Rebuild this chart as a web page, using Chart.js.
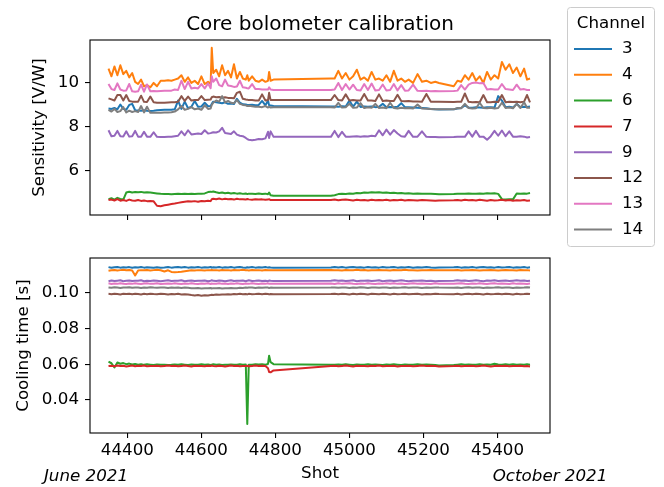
<!DOCTYPE html>
<html>
<head>
<meta charset="utf-8">
<script src="https://cdn.jsdelivr.net/npm/chart.js"></script>
<style>
  html, body { margin: 0; padding: 0; background: #fff; }
  #wrap { position: relative; width: 664px; height: 487px; }
  #wrap canvas { position: absolute; left: 0; top: 0; }
</style>
</head>
<body>
<div id="wrap">
  <canvas id="sensChart" width="664" height="487"></canvas>
  <canvas id="coolChart" width="664" height="487"></canvas>
</div>
<script>
// shot numbers shared by every channel
const shots = [
  44349, 44357, 44365, 44373, 44381, 44389, 44397, 44405, 44413, 44421,
  44429, 44437, 44445, 44453, 44462, 44471, 44480, 44490, 44500, 44510,
  44519, 44528, 44537, 44546, 44555, 44564, 44573, 44582, 44591, 44600,
  44609, 44618, 44625, 44628, 44632, 44640, 44648, 44656, 44664, 44672,
  44680, 44688, 44696, 44704, 44712, 44720, 44724, 44728, 44737, 44746,
  44755, 44764, 44773, 44780, 44783, 44787, 44795, 44950, 44960, 44970,
  44980, 44990, 45000, 45010, 45020, 45030, 45040, 45050, 45060, 45070,
  45080, 45090, 45100, 45110, 45120, 45130, 45140, 45150, 45160, 45172,
  45184, 45196, 45208, 45220, 45232, 45242, 45282, 45292, 45302, 45312,
  45322, 45332, 45342, 45352, 45362, 45372, 45382, 45392, 45402, 45412,
  45422, 45432, 45442, 45452, 45462, 45472, 45480, 45488
];

const channels = ['3', '4', '6', '7', '9', '12', '13', '14'];
const colors = ['#1f77b4', '#ff7f0e', '#2ca02c', '#d62728', '#9467bd', '#8c564b', '#e377c2', '#7f7f7f'];

const xTicks = [44400, 44600, 44800, 45000, 45200, 45400];
const sensTicks = [6, 8, 10];
const coolTicks = [0.04, 0.06, 0.08, 0.10];

// sensitivity [V/W]
const sens3 = [
  8.84, 8.82, 8.86, 8.80, 9.02, 8.82, 8.78, 9.00, 9.05, 8.76,
  8.75, 8.74, 8.76, 8.74, 8.73, 8.74, 8.76, 8.77, 8.78, 8.78,
  8.78, 8.80, 9.20, 8.82, 9.15, 8.85, 8.92, 9.18, 8.92, 8.93,
  9.10, 8.94, 8.95, 9.05, 9.15, 9.12, 9.10, 9.08, 9.12, 9.05,
  9.06, 9.04, 9.28, 9.10, 9.03, 9.02, 9.00, 9.00, 9.01, 8.99,
  9.00, 9.18, 8.98, 9.20, 8.98, 8.97, 8.95, 8.93, 8.93, 8.92,
  8.94, 8.93, 9.20, 8.92, 9.15, 8.91, 8.93, 8.92, 8.93, 8.90,
  8.92, 9.05, 8.90, 8.91, 8.90, 8.92, 9.08, 8.90, 8.89, 8.88,
  8.87, 8.86, 8.85, 8.82, 8.80, 8.79, 8.80, 8.84, 8.86, 8.98,
  8.88, 8.87, 8.89, 8.88, 8.87, 8.90, 8.89, 8.88, 9.40, 9.20,
  8.90, 8.92, 8.88, 9.05, 8.90, 8.92, 8.91, 8.93
];
const sens4 = [
  10.65, 10.30, 10.75, 10.35, 10.80, 10.40, 10.55, 10.25, 10.45, 10.05,
  9.95, 10.15, 9.85, 9.90, 9.80, 10.00, 9.85, 10.10, 10.10, 10.12,
  10.10, 10.15, 10.20, 10.35, 10.05, 10.25, 10.00, 10.10, 9.95, 10.30,
  9.95, 10.05, 9.95, 11.60, 10.45, 10.60, 10.30, 10.80, 10.35, 10.55,
  10.25, 10.85, 10.20, 10.50, 10.20, 10.15, 10.35, 10.10, 10.30, 10.10,
  10.05, 10.15, 10.05, 10.10, 10.50, 10.10, 10.15, 10.20, 10.20, 10.55,
  10.20, 10.45, 10.15, 10.30, 10.60, 10.15, 10.25, 10.10, 10.50, 10.15,
  10.20, 10.10, 10.35, 10.05, 10.55, 10.10, 10.20, 10.05, 10.15, 10.00,
  10.40, 10.05, 10.10, 10.00, 10.05, 10.00, 9.85, 10.10, 10.05, 10.35,
  10.15, 10.45, 10.10, 10.30, 10.00, 10.50, 10.15, 10.35, 10.20, 10.95,
  10.60, 10.85, 10.45, 10.70, 10.30, 10.65, 10.15, 10.20
];
const sens6 = [
  4.72, 4.76, 4.70, 4.78, 4.73, 4.70, 5.02, 5.06, 5.02, 5.04,
  5.03, 5.05, 5.02, 5.03, 5.02, 5.00, 4.98, 4.96, 4.95, 4.95,
  4.94, 4.95, 4.96, 4.95, 4.97, 4.95, 4.96, 4.95, 4.96, 4.97,
  4.98, 5.04, 5.06, 5.05, 5.07, 5.03, 5.00, 5.02, 4.99, 5.01,
  4.98, 5.00, 4.97, 4.99, 4.96, 4.98, 4.95, 4.97, 4.96, 4.95,
  4.98, 4.95, 4.97, 4.94, 5.02, 4.90, 4.87, 4.87, 4.90, 4.95,
  4.96, 4.95, 4.98, 4.97, 5.00, 4.99, 5.02, 5.01, 5.03, 5.02,
  5.03, 5.01, 5.02, 5.00, 5.01, 4.99, 5.00, 4.98, 4.99, 4.97,
  4.98, 4.96, 4.97, 4.96, 4.95, 4.94, 4.95, 4.96, 4.97, 4.96,
  4.98, 4.97, 4.96, 4.98, 4.97, 4.99, 4.98, 4.99, 4.96, 4.72,
  4.70, 4.72, 4.71, 4.98, 4.96, 4.98, 4.97, 5.00
];
const sens7 = [
  4.68, 4.70, 4.66, 4.72, 4.65, 4.68, 4.64, 4.70, 4.66, 4.65,
  4.68, 4.64, 4.66, 4.63, 4.64, 4.62, 4.42, 4.40, 4.44, 4.47,
  4.50, 4.52, 4.55, 4.58, 4.60, 4.62, 4.61, 4.63, 4.60, 4.64,
  4.62, 4.65, 4.63, 4.72, 4.74, 4.72, 4.75, 4.71, 4.74, 4.72,
  4.73, 4.70, 4.74, 4.71, 4.72, 4.70, 4.73, 4.71, 4.69, 4.72,
  4.70, 4.71, 4.69, 4.70, 4.72, 4.68, 4.68, 4.68, 4.70, 4.67,
  4.69, 4.70, 4.68, 4.66, 4.69, 4.67, 4.68, 4.66, 4.69, 4.67,
  4.68, 4.67, 4.69, 4.66, 4.68, 4.67, 4.69, 4.66, 4.68, 4.67,
  4.66, 4.68, 4.67, 4.66, 4.65, 4.66, 4.67, 4.68, 4.66, 4.69,
  4.67, 4.68, 4.66, 4.69, 4.67, 4.65, 4.68, 4.66, 4.67, 4.69,
  4.66, 4.68, 4.65, 4.67, 4.66, 4.68, 4.65, 4.66
];
const sens9 = [
  7.85, 7.58, 7.60, 7.82, 7.58, 7.57, 7.80, 7.56, 7.58, 7.82,
  7.56, 7.55, 7.78, 7.56, 7.55, 7.76, 7.55, 7.54, 7.54, 7.55,
  7.56, 7.58, 7.60, 7.80, 7.62, 7.85, 7.66, 7.68, 7.70, 7.68,
  7.85, 7.70, 7.72, 7.74, 7.76, 7.75, 7.80, 7.96, 7.72, 7.70,
  7.68, 7.80, 7.65, 7.60, 7.58, 7.50, 7.45, 7.42, 7.40, 7.42,
  7.45, 7.44, 7.48, 7.78, 7.50, 7.80, 7.55, 7.55, 7.82, 7.54,
  7.78, 7.56, 7.55, 7.57, 7.58, 7.56, 7.58, 7.57, 7.60, 7.58,
  7.85, 7.62, 7.88, 7.65, 7.86, 7.70, 7.58, 7.56, 7.82, 7.55,
  7.56, 7.80, 7.55, 7.54, 7.54, 7.53, 7.54, 7.55, 7.56, 7.55,
  7.80, 7.56, 7.82, 7.55, 7.56, 7.42, 7.58, 7.82, 7.60, 7.84,
  7.58, 7.80, 7.56, 7.55, 7.58, 7.56, 7.52, 7.54
];
const sens12 = [
  9.30, 9.25, 9.20, 9.45, 9.45, 9.20, 9.45, 9.18, 9.15, 9.15,
  9.15, 9.42, 9.14, 9.13, 9.38, 9.12, 9.10, 9.10, 9.10, 9.11,
  9.12, 9.12, 9.14, 9.40, 9.18, 9.38, 9.20, 9.22, 9.22, 9.40,
  9.22, 9.24, 9.25, 9.35, 9.38, 9.35, 9.36, 9.33, 9.35, 9.32,
  9.32, 9.30, 9.55, 9.60, 9.28, 9.25, 9.24, 9.22, 9.22, 9.20,
  9.20, 9.48, 9.20, 9.22, 9.55, 9.22, 9.22, 9.22, 9.45, 9.22,
  9.20, 9.48, 9.20, 9.22, 9.20, 9.20, 9.50, 9.20, 9.20, 9.18,
  9.48, 9.18, 9.20, 9.18, 9.18, 9.46, 9.18, 9.17, 9.18, 9.16,
  9.16, 9.15, 9.50, 9.15, 9.14, 9.14, 9.13, 9.14, 9.14, 9.52,
  9.14, 9.12, 9.13, 9.12, 9.45, 9.12, 9.12, 9.14, 9.13, 9.45,
  9.12, 9.14, 9.13, 9.14, 9.12, 9.15, 9.45, 9.12
];
const sens13 = [
  9.95, 9.72, 9.68, 9.98, 9.70, 9.65, 9.66, 9.95, 9.62, 9.60,
  9.62, 9.92, 9.60, 9.93, 9.62, 9.63, 9.62, 9.63, 9.64, 9.64,
  9.65, 9.70, 9.68, 10.10, 9.72, 10.05, 9.75, 9.78, 9.75, 9.95,
  9.75, 9.98, 9.76, 10.30, 10.05, 10.20, 9.90, 9.85, 10.15, 9.88,
  9.86, 9.82, 9.84, 10.10, 9.80, 9.78, 9.76, 9.75, 9.95, 9.72,
  9.72, 9.70, 9.70, 9.70, 9.80, 9.70, 9.68, 9.68, 9.70, 10.00,
  9.68, 9.95, 9.70, 9.92, 9.68, 9.66, 9.95, 9.68, 9.97, 9.66,
  9.68, 9.93, 9.66, 9.68, 9.95, 9.66, 9.90, 9.65, 9.66, 9.92,
  9.64, 9.63, 9.64, 9.62, 9.63, 9.62, 9.63, 9.65, 9.90, 9.70,
  9.92, 10.00, 10.02, 9.98, 10.00, 9.70, 9.72, 9.70, 9.70, 9.95,
  9.72, 9.70, 9.68, 9.92, 9.70, 9.72, 9.68, 9.68
];
const sens14 = [
  8.78, 8.70, 8.82, 8.68, 8.72, 8.90, 8.66, 8.74, 8.68, 8.72,
  8.68, 8.95, 8.66, 8.92, 8.64, 8.65, 8.64, 8.65, 8.66, 8.66,
  8.67, 8.70, 8.80, 8.95, 8.78, 8.82, 8.90, 8.80, 8.84, 8.78,
  8.98, 8.82, 8.84, 9.00, 9.10, 9.20, 9.15, 9.40, 9.12, 9.18,
  9.10, 9.08, 9.22, 9.05, 9.00, 8.98, 8.95, 8.96, 8.94, 8.92,
  8.92, 8.90, 8.95, 8.88, 8.92, 8.88, 8.89, 8.90, 8.88, 9.10,
  8.88, 8.90, 9.05, 8.87, 8.88, 9.08, 8.86, 8.89, 8.87, 9.05,
  8.86, 8.88, 8.85, 9.10, 8.86, 8.84, 8.87, 8.85, 8.86, 8.84,
  9.02, 8.84, 8.83, 8.82, 8.80, 8.80, 8.80, 8.86, 8.85, 9.05,
  8.86, 8.84, 8.85, 9.10, 8.86, 8.85, 8.87, 8.84, 8.86, 9.10,
  8.86, 8.88, 8.85, 9.05, 8.86, 9.12, 8.87, 8.87
];

// cooling time [s]
const cool3 = [
  0.1145, 0.1141, 0.1144, 0.1146, 0.1142, 0.1144, 0.1143, 0.1145, 0.1141, 0.1144,
  0.1143, 0.1145, 0.1142, 0.1144, 0.1143, 0.1141, 0.1144, 0.1142, 0.1143, 0.1145,
  0.1142, 0.1144, 0.1146, 0.1143, 0.1145, 0.1142, 0.1144, 0.1143, 0.1145, 0.1142,
  0.1144, 0.1143, 0.1146, 0.1142, 0.1144, 0.1143, 0.1145, 0.1142, 0.1144, 0.1143,
  0.1145, 0.1142, 0.1144, 0.1146, 0.1143, 0.1141, 0.1144, 0.1143, 0.1145, 0.1142,
  0.1144, 0.1143, 0.1145, 0.1142, 0.1144, 0.1143, 0.1142, 0.1143, 0.1146, 0.1143,
  0.1145, 0.1142, 0.1144, 0.1146, 0.1143, 0.1144, 0.1142, 0.1145, 0.1143, 0.1144,
  0.1142, 0.1145, 0.1143, 0.1144, 0.1146, 0.1142, 0.1144, 0.1143, 0.1145, 0.1142,
  0.1144, 0.1143, 0.1145, 0.1143, 0.1142, 0.1143, 0.1144, 0.1146, 0.1142, 0.1144,
  0.1143, 0.1145, 0.1142, 0.1144, 0.1146, 0.1143, 0.1144, 0.1142, 0.1145, 0.1143,
  0.1144, 0.1146, 0.1142, 0.1144, 0.1143, 0.1145, 0.1142, 0.1144
];
const cool4 = [
  0.1124, 0.1127, 0.1129, 0.1126, 0.1128, 0.1130, 0.1127, 0.1129, 0.1126, 0.1098,
  0.1126, 0.1128, 0.1127, 0.1129, 0.1126, 0.1128, 0.1130, 0.1127, 0.1120, 0.1127,
  0.1118, 0.1116, 0.1117, 0.1119, 0.1122, 0.1125, 0.1127, 0.1126, 0.1128, 0.1127,
  0.1126, 0.1128, 0.1127, 0.1129, 0.1127, 0.1128, 0.1126, 0.1129, 0.1127, 0.1128,
  0.1126, 0.1129, 0.1127, 0.1128, 0.1130, 0.1127, 0.1128, 0.1126, 0.1129, 0.1127,
  0.1128, 0.1126, 0.1129, 0.1127, 0.1128, 0.1127, 0.1128, 0.1129, 0.1127, 0.1128,
  0.1126, 0.1129, 0.1127, 0.1128, 0.1130, 0.1127, 0.1129, 0.1126, 0.1128, 0.1127,
  0.1129, 0.1127, 0.1128, 0.1126, 0.1129, 0.1127, 0.1128, 0.1130, 0.1127, 0.1128,
  0.1126, 0.1128, 0.1127, 0.1129, 0.1127, 0.1128, 0.1127, 0.1129, 0.1126, 0.1128,
  0.1127, 0.1129, 0.1128, 0.1126, 0.1128, 0.1127, 0.1129, 0.1128, 0.1126, 0.1128,
  0.1129, 0.1127, 0.1128, 0.1126, 0.1129, 0.1127, 0.1128, 0.1126
];
const cool6 = [
  0.0615, 0.0606, 0.0582, 0.0610, 0.0603, 0.0607, 0.0601, 0.0604, 0.0599, 0.0602,
  0.0598, 0.0601, 0.0597, 0.0600, 0.0598, 0.0596, 0.0599, 0.0597, 0.0598, 0.0596,
  0.0597, 0.0599, 0.0597, 0.0600, 0.0598, 0.0596, 0.0599, 0.0597, 0.0598, 0.0600,
  0.0597, 0.0599, 0.0596, 0.0598, 0.0600, 0.0597, 0.0599, 0.0596, 0.0598, 0.0597,
  0.0599, 0.0597, 0.0598, 0.0600, 0.0597, 0.0599, 0.0265, 0.0597, 0.0598, 0.0600,
  0.0599, 0.0601, 0.0598, 0.0602, 0.0648, 0.0612, 0.0601, 0.0598, 0.0597, 0.0599,
  0.0597, 0.0600, 0.0598, 0.0596, 0.0599, 0.0597, 0.0598, 0.0600, 0.0597, 0.0599,
  0.0598, 0.0596, 0.0599, 0.0597, 0.0600, 0.0598, 0.0596, 0.0599, 0.0597, 0.0598,
  0.0600, 0.0597, 0.0599, 0.0598, 0.0596, 0.0594, 0.0596, 0.0598, 0.0600, 0.0597,
  0.0599, 0.0597, 0.0598, 0.0600, 0.0597, 0.0599, 0.0598, 0.0603, 0.0599, 0.0597,
  0.0600, 0.0598, 0.0601, 0.0597, 0.0599, 0.0598, 0.0600, 0.0598
];
const cool7 = [
  0.0590, 0.0592, 0.0589, 0.0593, 0.0590, 0.0592, 0.0588, 0.0591, 0.0593, 0.0589,
  0.0592, 0.0590, 0.0593, 0.0589, 0.0591, 0.0590, 0.0592, 0.0589, 0.0591, 0.0593,
  0.0590, 0.0592, 0.0589, 0.0591, 0.0593, 0.0590, 0.0588, 0.0592, 0.0590, 0.0591,
  0.0589, 0.0592, 0.0590, 0.0593, 0.0591, 0.0589, 0.0592, 0.0590, 0.0588, 0.0591,
  0.0593, 0.0590, 0.0592, 0.0589, 0.0591, 0.0590, 0.0592, 0.0589, 0.0591, 0.0593,
  0.0590, 0.0592, 0.0591, 0.0578, 0.0557, 0.0555, 0.0566, 0.0590, 0.0592, 0.0589,
  0.0591, 0.0593, 0.0590, 0.0588, 0.0592, 0.0590, 0.0591, 0.0589, 0.0592, 0.0590,
  0.0593, 0.0589, 0.0591, 0.0590, 0.0592, 0.0588, 0.0591, 0.0590, 0.0592, 0.0589,
  0.0591, 0.0593, 0.0590, 0.0592, 0.0590, 0.0588, 0.0590, 0.0592, 0.0589, 0.0591,
  0.0590, 0.0592, 0.0589, 0.0591, 0.0593, 0.0590, 0.0588, 0.0591, 0.0592, 0.0590,
  0.0592, 0.0589, 0.0591, 0.0590, 0.0592, 0.0589, 0.0591, 0.0588
];
const cool9 = [
  0.1066, 0.1070, 0.1067, 0.1069, 0.1071, 0.1066, 0.1068, 0.1070, 0.1067, 0.1069,
  0.1068, 0.1071, 0.1066, 0.1069, 0.1067, 0.1070, 0.1068, 0.1066, 0.1069, 0.1071,
  0.1067, 0.1069, 0.1068, 0.1071, 0.1066, 0.1069, 0.1070, 0.1067, 0.1069, 0.1068,
  0.1070, 0.1066, 0.1069, 0.1071, 0.1068, 0.1067, 0.1070, 0.1068, 0.1066, 0.1069,
  0.1071, 0.1067, 0.1069, 0.1068, 0.1070, 0.1066, 0.1069, 0.1071, 0.1067, 0.1068,
  0.1070, 0.1067, 0.1069, 0.1066, 0.1070, 0.1068, 0.1067, 0.1068, 0.1071, 0.1068,
  0.1070, 0.1067, 0.1069, 0.1071, 0.1066, 0.1069, 0.1068, 0.1070, 0.1067, 0.1069,
  0.1071, 0.1066, 0.1068, 0.1070, 0.1067, 0.1069, 0.1071, 0.1068, 0.1066, 0.1069,
  0.1068, 0.1070, 0.1067, 0.1069, 0.1066, 0.1067, 0.1069, 0.1071, 0.1068, 0.1070,
  0.1067, 0.1069, 0.1071, 0.1068, 0.1066, 0.1070, 0.1068, 0.1071, 0.1067, 0.1069,
  0.1070, 0.1067, 0.1069, 0.1071, 0.1068, 0.1070, 0.1067, 0.1069
];
const cool12 = [
  0.0995, 0.0993, 0.0996, 0.0994, 0.0992, 0.0995, 0.0994, 0.0996, 0.0993, 0.0995,
  0.0994, 0.0992, 0.0995, 0.0993, 0.0996, 0.0994, 0.0993, 0.0995, 0.0994, 0.0992,
  0.0994, 0.0993, 0.0995, 0.0992, 0.0993, 0.0991, 0.0988, 0.0986, 0.0988, 0.0985,
  0.0987, 0.0986, 0.0988, 0.0990, 0.0989, 0.0991, 0.0990, 0.0992, 0.0991, 0.0993,
  0.0992, 0.0994, 0.0993, 0.0995, 0.0993, 0.0994, 0.0992, 0.0995, 0.0993, 0.0994,
  0.0996, 0.0993, 0.0995, 0.0994, 0.0992, 0.0994, 0.0993, 0.0994, 0.0996, 0.0993,
  0.0995, 0.0994, 0.0992, 0.0995, 0.0993, 0.0996, 0.0994, 0.0992, 0.0995, 0.0994,
  0.0993, 0.0995, 0.0994, 0.0992, 0.0995, 0.0993, 0.0994, 0.0996, 0.0993, 0.0994,
  0.0995, 0.0992, 0.0994, 0.0993, 0.0995, 0.0994, 0.0993, 0.0995, 0.0992, 0.0994,
  0.0996, 0.0993, 0.0995, 0.0994, 0.0992, 0.0995, 0.0993, 0.0994, 0.0996, 0.0993,
  0.0995, 0.0994, 0.0992, 0.0995, 0.0993, 0.0994, 0.0996, 0.0994
];
const cool13 = [
  0.1054, 0.1050, 0.1053, 0.1051, 0.1055, 0.1052, 0.1050, 0.1053, 0.1051, 0.1054,
  0.1052, 0.1050, 0.1053, 0.1055, 0.1051, 0.1052, 0.1054, 0.1050, 0.1052, 0.1053,
  0.1051, 0.1054, 0.1052, 0.1050, 0.1053, 0.1051, 0.1055, 0.1052, 0.1050, 0.1053,
  0.1052, 0.1054, 0.1050, 0.1053, 0.1051, 0.1052, 0.1055, 0.1051, 0.1053, 0.1050,
  0.1053, 0.1051, 0.1054, 0.1052, 0.1050, 0.1053, 0.1052, 0.1051, 0.1054, 0.1052,
  0.1050, 0.1053, 0.1051, 0.1054, 0.1052, 0.1051, 0.1052, 0.1053, 0.1050, 0.1054,
  0.1051, 0.1053, 0.1055, 0.1052, 0.1050, 0.1053, 0.1051, 0.1054, 0.1052, 0.1050,
  0.1053, 0.1051, 0.1054, 0.1052, 0.1055, 0.1051, 0.1053, 0.1050, 0.1052, 0.1054,
  0.1051, 0.1053, 0.1052, 0.1050, 0.1054, 0.1052, 0.1051, 0.1053, 0.1055, 0.1052,
  0.1050, 0.1053, 0.1051, 0.1054, 0.1052, 0.1050, 0.1053, 0.1055, 0.1051, 0.1053,
  0.1052, 0.1050, 0.1054, 0.1051, 0.1053, 0.1052, 0.1050, 0.1053
];
const cool14 = [
  0.1031, 0.1029, 0.1032, 0.1030, 0.1028, 0.1031, 0.1030, 0.1032, 0.1029, 0.1031,
  0.1030, 0.1028, 0.1031, 0.1029, 0.1032, 0.1030, 0.1029, 0.1031, 0.1030, 0.1028,
  0.1030, 0.1029, 0.1031, 0.1028, 0.1030, 0.1029, 0.1027, 0.1026, 0.1028, 0.1025,
  0.1027, 0.1026, 0.1028, 0.1025, 0.1027, 0.1026, 0.1028, 0.1025, 0.1027, 0.1026,
  0.1028, 0.1026, 0.1027, 0.1029, 0.1028, 0.1030, 0.1029, 0.1031, 0.1030, 0.1028,
  0.1030, 0.1029, 0.1031, 0.1030, 0.1028, 0.1030, 0.1029, 0.1030, 0.1031, 0.1029,
  0.1031, 0.1030, 0.1028, 0.1031, 0.1029, 0.1032, 0.1030, 0.1028, 0.1031, 0.1030,
  0.1029, 0.1031, 0.1030, 0.1028, 0.1031, 0.1029, 0.1030, 0.1032, 0.1029, 0.1030,
  0.1031, 0.1028, 0.1030, 0.1029, 0.1031, 0.1030, 0.1029, 0.1031, 0.1028, 0.1030,
  0.1032, 0.1029, 0.1031, 0.1030, 0.1028, 0.1031, 0.1029, 0.1030, 0.1032, 0.1029,
  0.1031, 0.1030, 0.1028, 0.1031, 0.1029, 0.1030, 0.1032, 0.1030
];

const sensitivity = [sens3, sens4, sens6, sens7, sens9, sens12, sens13, sens14];
const coolingTime = [cool3, cool4, cool6, cool7, cool9, cool12, cool13, cool14];

const FONT = 'DejaVu Sans';
const FS = 16.7;
Chart.defaults.font.family = FONT;
Chart.defaults.font.size = FS;
Chart.defaults.color = '#000';

function makeDatasets(series) {
  return series.map((vals, i) => ({
    label: channels[i],
    data: shots.map((s, j) => ({ x: s, y: vals[j] })),
    borderColor: colors[i],
    backgroundColor: colors[i],
    borderWidth: 2,
    pointRadius: 0,
    tension: 0,
    borderJoinStyle: 'round',
    order: series.length - i   // later channels drawn on top
  }));
}

// black box around the plotting area
const frame = {
  id: 'frame',
  afterDraw(chart) {
    const a = chart.chartArea, ctx = chart.ctx;
    ctx.save();
    ctx.strokeStyle = '#000';
    ctx.lineWidth = 1.1;
    ctx.strokeRect(a.left, a.top, a.right - a.left, a.bottom - a.top);
    ctx.restore();
  }
};

// figure title and the channel legend on the upper panel
const titleAndLegend = {
  id: 'titleAndLegend',
  afterDraw(chart) {
    const ctx = chart.ctx;
    ctx.save();
    ctx.fillStyle = '#000';
    ctx.font = '20px "' + FONT + '"';
    ctx.textAlign = 'center';
    ctx.textBaseline = 'alphabetic';
    ctx.fillText('Core bolometer calibration', (chart.chartArea.left + chart.chartArea.right) / 2, 30);

    ctx.fillStyle = 'rgba(255,255,255,0.8)';
    ctx.strokeStyle = '#cccccc';
    ctx.lineWidth = 1;
    ctx.beginPath();
    ctx.roundRect(567.5, 7.5, 87, 239, 3);
    ctx.fill();
    ctx.stroke();

    ctx.fillStyle = '#000';
    ctx.font = FS + 'px "' + FONT + '"';
    ctx.textBaseline = 'middle';
    ctx.fillText('Channel', 611, 24);
    ctx.textAlign = 'left';
    chart.data.datasets.forEach((ds, i) => {
      const y = 49 + i * 25.8;
      ctx.strokeStyle = ds.borderColor;
      ctx.lineWidth = 2;
      ctx.beginPath();
      ctx.moveTo(574, y);
      ctx.lineTo(612, y);
      ctx.stroke();
      ctx.fillText(ds.label, 622, y);
    });
    ctx.restore();
  }
};

// campaign dates under the ends of the shot axis
const dateNotes = {
  id: 'dateNotes',
  afterDraw(chart) {
    const ctx = chart.ctx, a = chart.chartArea;
    ctx.save();
    ctx.fillStyle = '#000';
    ctx.font = 'italic ' + FS + 'px "' + FONT + '"';
    ctx.textAlign = 'center';
    ctx.textBaseline = 'alphabetic';
    ctx.fillText('June 2021', a.left - 4, 481);
    ctx.fillText('October 2021', a.right, 481);
    ctx.restore();
  }
};

const tickGrid = { drawOnChartArea: false, drawTicks: true, tickLength: 5, color: '#000', lineWidth: 1.1 };

function makeChart(id, series, opt) {
  return new Chart(document.getElementById(id), {
    type: 'line',
    data: { datasets: makeDatasets(series) },
    options: {
      responsive: false,
      animation: false,
      devicePixelRatio: 1,
      layout: { padding: { left: 0, right: 114, top: opt.top, bottom: 0 } },
      plugins: { legend: { display: false }, tooltip: { enabled: false } },
      scales: {
        x: {
          type: 'linear',
          min: 44299,
          max: 45542,
          border: { display: false },
          grid: tickGrid,
          afterBuildTicks: s => { s.ticks = xTicks.map(v => ({ value: v })); },
          afterFit: s => { s.height = opt.xHeight; },
          ticks: { display: opt.showX, padding: 3, maxRotation: 0, callback: v => String(v) },
          title: { display: opt.showX, text: 'Shot', padding: { top: 0, bottom: 3 } }
        },
        y: {
          type: 'linear',
          min: opt.yMin,
          max: opt.yMax,
          border: { display: false },
          grid: tickGrid,
          afterBuildTicks: s => { s.ticks = opt.yTicks.map(v => ({ value: v })); },
          afterFit: s => { s.width = 90; },
          ticks: { padding: 6, callback: opt.yFmt },
          title: { display: true, text: opt.yTitle, padding: { top: opt.yTitlePad, bottom: 0 } }
        }
      }
    },
    plugins: opt.plugins
  });
}

makeChart('sensChart', sensitivity, {
  top: 40, xHeight: 272, showX: false,
  yMin: 4.0, yMax: 11.95, yTicks: sensTicks, yFmt: v => String(v),
  yTitle: 'Sensitivity [V/W]', yTitlePad: 30,
  plugins: [frame, titleAndLegend]
});

makeChart('coolChart', coolingTime, {
  top: 258, xHeight: 54, showX: true,
  yMin: 0.0215, yMax: 0.1196, yTicks: coolTicks, yFmt: v => v.toFixed(2),
  yTitle: 'Cooling time [s]', yTitlePad: 14,
  plugins: [frame, dateNotes]
});
</script>
</body>
</html>
